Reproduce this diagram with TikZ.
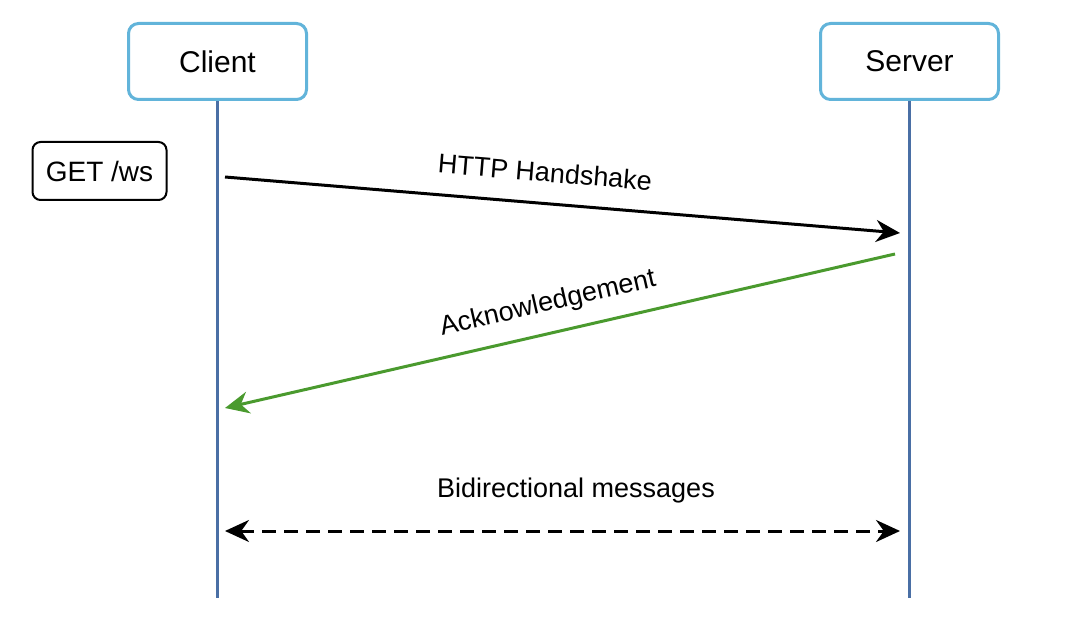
\documentclass[tikz,border=0pt]{standalone}
\usepackage{fontspec}
\setmainfont{Liberation Sans}
\usepackage{tikz}
\usetikzlibrary{arrows.meta, positioning, calc}
\definecolor{boxblue}{HTML}{62B4DA}
\definecolor{lifeblue}{HTML}{4A6FA5}
\definecolor{ackgreen}{HTML}{4A9A2E}

\begin{document}
\begin{tikzpicture}[
  x=0.5pt, y=-0.5pt,
  actor/.style={draw=boxblue, line width=1.5pt, rounded corners=5pt, fill=white,
                minimum width=89pt, minimum height=38pt, font=\fontsize{15}{18}\selectfont},
  note/.style={draw, line width=1pt, rounded corners=4pt,
               minimum width=67pt, minimum height=29pt, font=\fontsize{14}{17}\selectfont},
  lifeline/.style={draw=lifeblue, line width=1.5pt},
  tip/.style={Stealth[length=12pt, width=11pt]},
  msg/.style={line width=1.5pt, -{Stealth[length=12pt, width=11pt]}},
  lbl/.style={font=\fontsize{13.5}{16}\selectfont},
]
\useasboundingbox (0,0) rectangle (1092,636);
\node[actor] (client) at (217.5,61.5)  {Client};
\node[actor] (server) at (909.5,61.5)  {Server};
\node[note]  (getws)  at (99.5,171)    {GET /ws};

\coordinate (client end) at (client.south |- 0,598);
\coordinate (server end) at (server.south |- 0,598);
\draw[lifeline] (client.south) -- (client end);
\draw[lifeline] (server.south) -- (server end);

% messages
\coordinate (hs from)  at (225,177);
\coordinate (hs to)    at (900,233);
\coordinate (ack from) at (895,254);
\coordinate (ack to)   at (225,408);
\coordinate (bi from)  at (225,531);
\coordinate (bi to)    at (900,531);

\draw[msg] (hs from) -- (hs to);
\draw[msg, draw=ackgreen, fill=ackgreen] (ack from) -- (ack to);
\draw[msg, {Stealth[length=12pt, width=11pt]}-{Stealth[length=12pt, width=11pt]},
      dash pattern=on 7pt off 4pt] (bi from) -- (bi to);

\node[lbl, rotate=-4.74]  (hs label)  at (545,172) {HTTP Handshake};
\node[lbl, rotate=12.9]   (ack label) at (548,304) {Acknowledgement};
\node[lbl]                (bi label)  at (576,491) {Bidirectional messages};
\end{tikzpicture}
\end{document}
